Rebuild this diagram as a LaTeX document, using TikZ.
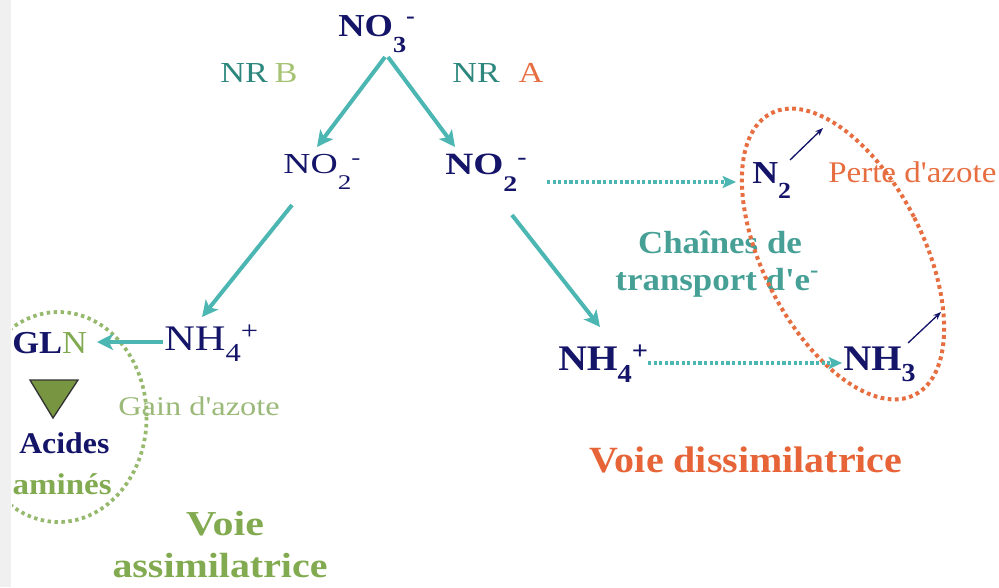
\documentclass[tikz,border=0pt]{standalone}
\usepackage{fontspec}
\setmainfont{Liberation Serif}
\usepackage{graphicx}
\usetikzlibrary{arrows.meta}
\definecolor{navy}{RGB}{20,20,105}
\definecolor{tealarrow}{RGB}{75,182,178}
\definecolor{tealtext}{RGB}{45,135,125}
\definecolor{tealbold}{RGB}{70,160,150}
\definecolor{orangeA}{RGB}{230,110,65}
\definecolor{orangeV}{RGB}{230,100,55}
\definecolor{greenB}{RGB}{165,195,115}
\definecolor{greenlight}{RGB}{155,185,120}
\definecolor{greenV}{RGB}{130,170,80}
\definecolor{greendot}{RGB}{150,185,110}
\definecolor{trifill}{RGB}{120,150,65}
\definecolor{stripgray}{RGB}{240,240,240}
\newcommand\lsub[2][0.45em]{\raisebox{-#1}{\scalebox{0.72}{#2}}}
\newcommand\lsup[2][0.3em]{\raisebox{#1}{\scalebox{0.72}{#2}}}
\newcommand\fs[1]{\fontsize{#1}{#1}\selectfont}
\tikzset{
  txt/.style={inner sep=0pt, anchor=base west},
  solidarrow/.style={draw=tealarrow, line width=3pt, -{Stealth[length=12pt,width=12pt,inset=3pt]}},
  dotarrow/.style={draw=tealarrow, line width=2.6pt, dash pattern=on 2.4pt off 1.8pt, -{Stealth[length=10pt,width=9pt,inset=2pt]}},
  thinarrow/.style={draw=navy, line width=1pt, -{Stealth[length=6pt,width=4.5pt]}},
}
\begin{document}
\begin{tikzpicture}[x=0.75pt,y=-0.75pt]
\useasboundingbox (0,0) rectangle (999,587);
\fill[stripgray] (0,0) rectangle (11,587);

% ---- text nodes ----
\node[txt,xscale=1.14,text=navy,font=\bfseries\fs{24pt}] (no3) at (338,36) {NO\lsub[0.53em]{3}\lsup[0.38em]{-}};
\node[txt,xscale=1.18,font=\fs{21.75pt}] (nrb) at (220,82) {\textcolor{tealtext}{NR}\hspace{0.2em}\textcolor{greenB}{B}};
\node[txt,xscale=1.18,font=\fs{21.75pt}] (nra) at (452,82) {\textcolor{tealtext}{NR}\hspace{0.55em}\textcolor{orangeA}{A}};
\node[txt,xscale=1.3,text=navy,font=\fs{21.75pt}] (no2l) at (283,173) {NO\lsub[0.58em]{2}\lsup{-}};
\node[txt,xscale=1.25,text=navy,font=\bfseries\fs{23.25pt}] (no2r) at (445,174) {NO\lsub[0.56em]{2}\lsup{-}};
\node[txt,xscale=1.12,text=navy,font=\bfseries\fs{24pt}] (n2) at (752,183) {N\lsub[0.47em]{2}};
\node[txt,xscale=1.1,text=orangeA,font=\fs{22.5pt}] (perte) at (828,182) {Perte d\textquotesingle azote};
\node[inner sep=0pt,anchor=base,xscale=1.09,text=tealbold,font=\bfseries\fs{24pt}] (ch1) at (720,253) {Chaînes de};
\node[inner sep=0pt,anchor=base,xscale=1.09,text=tealbold,font=\bfseries\fs{24pt}] (ch2) at (717,290) {transport d\textquotesingle e\lsup[0.4em]{-}};
\node[txt,xscale=1.1,text=navy,font=\bfseries\fs{27pt}] (nh4r) at (558,370) {NH\lsub[0.36em]{4}\lsup{+}};
\node[txt,xscale=1.08,text=navy,font=\bfseries\fs{27pt}] (nh3) at (843,370) {NH\lsub[0.33em]{3}};
\node[txt,xscale=1.18,text=navy,font=\fs{27pt}] (nh4l) at (164,350) {NH\lsub[0.33em]{4}\lsup{+}};
\begin{scope}
\clip (12,0) rectangle (999,587);
\node[txt,xscale=1.08,font=\fs{24pt}] (gln) at (12,353) {\textcolor{navy}{\bfseries GL}\textcolor{greenV}{N}};
\node[inner sep=0pt,anchor=base east,xscale=1.1,text=greenV,font=\bfseries\fs{22.5pt}] (amines) at (112,494) {aminés};
\draw[greendot, line width=2.8pt, dash pattern=on 2.6pt off 2.6pt] (58.6,417) ellipse (88 and 105);
\end{scope}
\node[txt,xscale=1.06,text=navy,font=\bfseries\fs{22.5pt}] (acides) at (19,453) {Acides};
\node[txt,xscale=1.2,text=greenlight,font=\fs{20.25pt}] (gain) at (118,415) {Gain d\textquotesingle azote};
\node[inner sep=0pt,anchor=base,xscale=1.2,text=greenV,font=\bfseries\fs{26.25pt}] (voie1) at (225,535) {Voie};
\node[inner sep=0pt,anchor=base,xscale=1.14,text=greenV,font=\bfseries\fs{26.25pt}] (voie2) at (220,577) {assimilatrice};
\node[inner sep=0pt,anchor=base,xscale=1.08,text=orangeV,font=\bfseries\fs{27.75pt}] (voied) at (746,472) {Voie dissimilatrice};

% triangle
\filldraw[fill=trifill, draw=black!80, line width=1pt] (30,380) -- (78,380) -- (53,418) -- cycle;

% orange dotted ellipse
\draw[orangeA, line width=3pt, dash pattern=on 2.8pt off 2.6pt, rotate around={27:(843,254)}] (843,254) ellipse (80 and 158);

% ---- connector end points ----
\coordinate (a1s) at (385,57);
\coordinate (a1e) at (317,147);
\coordinate (a2s) at (388,57);
\coordinate (a2e) at (455,147);
\coordinate (a3s) at (292,205);
\coordinate (a3e) at (202,317);
\coordinate (a4s) at (512,215);
\coordinate (a4e) at (600,327);
\coordinate (a5s) at (163,342);
\coordinate (a5e) at (97,342);
\coordinate (d1s) at (547,182);
\coordinate (d1e) at (736,182);
\coordinate (d2s) at (648,363);
\coordinate (d2e) at (842,363);
\coordinate (s1s) at (790,160);
\coordinate (s1e) at (823,128);
\coordinate (s2s) at (908,343);
\coordinate (s2e) at (941,312);

\draw[solidarrow] (a1s) -- (a1e);
\draw[solidarrow] (a2s) -- (a2e);
\draw[solidarrow] (a3s) -- (a3e);
\draw[solidarrow] (a4s) -- (a4e);
\draw[solidarrow] (a5s) -- (a5e);
\draw[dotarrow] (d1s) -- (d1e);
\draw[dotarrow] (d2s) -- (d2e);
\draw[thinarrow] (s1s) -- (s1e);
\draw[thinarrow] (s2s) -- (s2e);
\end{tikzpicture}
\end{document}
